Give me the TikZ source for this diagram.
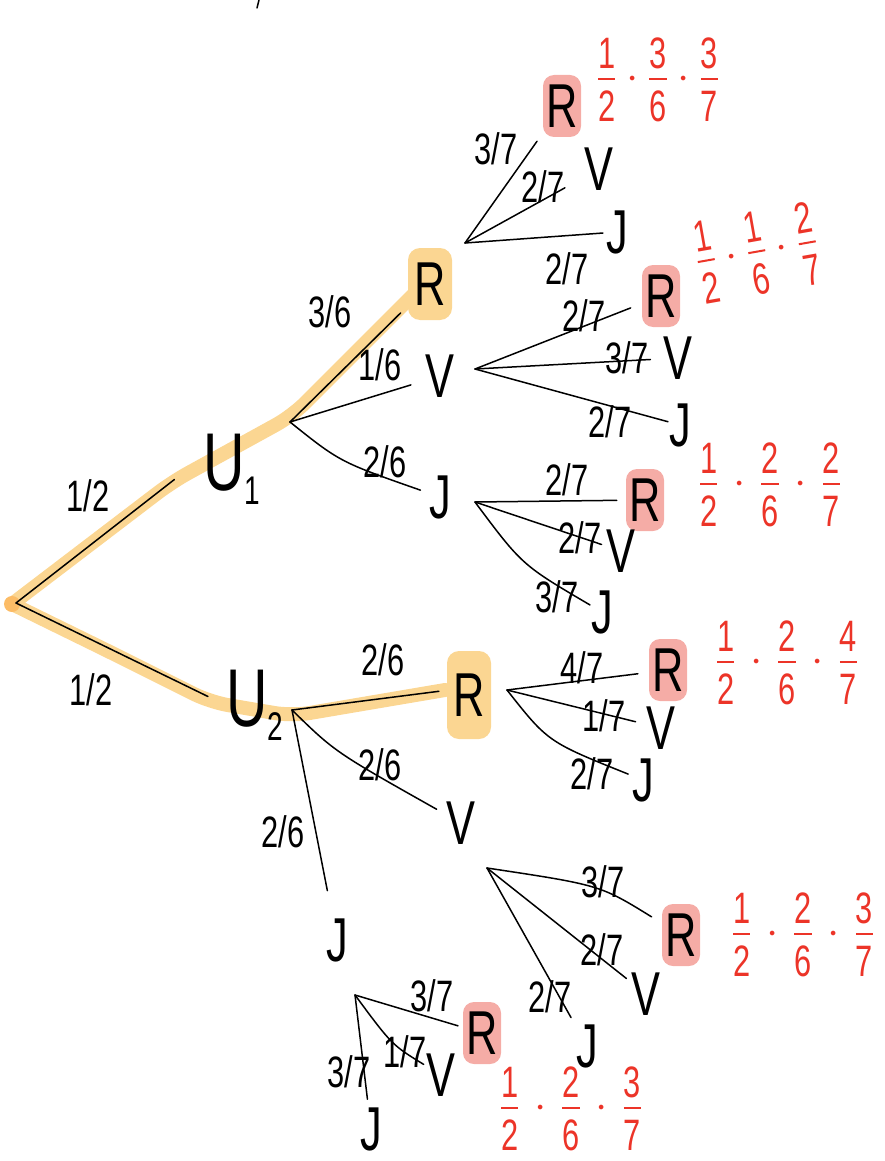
\documentclass[tikz,border=0pt]{standalone}
\usepackage{fix-cm}
\usepackage{amsmath}
\usepackage{fontspec}
\newfontfamily\hand[FakeStretch=0.7]{Liberation Sans}
\definecolor{hlorange}{RGB}{251,214,146}
\definecolor{hlred}{RGB}{245,172,166}
\definecolor{penred}{RGB}{236,52,40}
\newcommand\pf[2]{\genfrac{}{}{2pt}{1}{\mbox{\rule[-7pt]{0pt}{7pt}#1}}{\mbox{\rule{0pt}{40pt}#2}}}
\newcommand\pdot{\hspace{5pt}\cdot\hspace{5pt}}

\begin{document}
\begin{tikzpicture}[x=1pt,y=-1pt,
	outc/.style={font=\hand\fontsize{62}{62}\selectfont,inner sep=1pt},
	bigu/.style={font=\hand\fontsize{82}{82}\selectfont,inner sep=1pt,anchor=base west},
	prob/.style={font=\hand\fontsize{44}{44}\selectfont,inner sep=0pt},
	edge/.style={line width=1.5pt,line cap=round},
	hlpath/.style={draw=hlorange,line width=14pt,line cap=round,line join=round,rounded corners=18pt},
	pick/.style={outc,fill=hlorange,rounded corners=12pt,minimum width=44pt,minimum height=72pt},
	hit/.style={outc,fill=hlred,rounded corners=11pt,minimum width=38pt,minimum height=62pt},
	prod/.style={text=penred,font=\hand\fontsize{44}{44}\selectfont,inner sep=0pt}]
	\useasboundingbox (0,0) rectangle (885,1161);
	\draw[hlpath] (12,604) -- (172,482) -- (292,416) -- (414,294);
	\draw[hlpath] (12,604) -- (110,652) -- (210,702) -- (292,716) -- (445,690);
	\fill[hlorange!70!orange] (12,604) circle (8);
	\draw[edge] (259,0) -- (257,8);
	\coordinate (o) at (16,603);
	\node[bigu] (u1) at (202,490) {U\raisebox{-14pt}{\fontsize{40}{40}\selectfont 1}};
	\node[bigu] (u2) at (225,726) {U\raisebox{-14pt}{\fontsize{40}{40}\selectfont 2}};
	\coordinate (u1f) at (290,422);
	\coordinate (u2f) at (292,710);
	\node[pick] (r1) at (430,284) {R};
	\node[outc] (v1) at (440,376) {V};
	\node[outc] (j1) at (440,497) {J};
	\node[pick,minimum height=88pt] (r2) at (469,695) {R};
	\node[outc] (v2) at (461,823) {V};
	\node[outc] (j2) at (337,940) {J};
	\coordinate (r1f) at (465,243);
	\coordinate (v1f) at (475,369);
	\coordinate (j1f) at (475,502);
	\coordinate (r2f) at (507,690);
	\coordinate (v2f) at (487,868);
	\coordinate (j2f) at (355,995);
	\node[hit] (rr1) at (562,106) {R};
	\node[outc] (rv1) at (599,169) {V};
	\node[outc] (rj1) at (617,232) {J};
	\node[hit] (vr1) at (661,296) {R};
	\node[outc] (vv1) at (678,358) {V};
	\node[outc] (vj1) at (680,425) {J};
	\node[hit] (jr1) at (645,500) {R};
	\node[outc] (jv1) at (621,551) {V};
	\node[outc] (jj1) at (602,612) {J};
	\node[hit] (rr2) at (668,670) {R};
	\node[outc] (rv2) at (661,728) {V};
	\node[outc] (rj2) at (643,780) {J};
	\node[hit] (vr2) at (681,935) {R};
	\node[outc] (vv2) at (646,994) {V};
	\node[outc] (vj2) at (587,1046) {J};
	\node[hit] (jr2) at (482,1033) {R};
	\node[outc] (jv2) at (441,1075) {V};
	\node[outc] (jj2) at (371,1129) {J};
	\draw[edge,shorten >=35pt] (o) -- (u1.160);
	\draw[edge,shorten >=19pt] (o) -- (u2.west);
	\draw[edge,shorten >=10pt] (u1f) -- (r1);
	\draw[edge,shorten >=14pt] (u1f) -- (v1);
	\draw[edge,shorten >=8pt] (u1f) .. controls (340,462) .. (j1);
	\draw[edge,shorten >=8pt] (u2f) -- (r2.168);
	\draw[edge,shorten >=10pt] (u2f) .. controls (335,752) .. (v2);
	\draw[edge,shorten >=27pt] (u2f) -- (j2);
	\draw[edge,shorten >=10pt] (r1f) -- (rr1);
	\draw[edge,shorten >=21pt] (r1f) -- (rv1);
	\draw[edge,shorten >=2pt] (r1f) -- (rj1);
	\draw[edge,shorten >=12pt] (v1f) -- (vr1);
	\draw[edge,shorten >=12pt] (v1f) -- (vv1);
	\draw[edge] (v1f) -- (vj1);
	\draw[edge,shorten >=9pt] (j1f) -- (jr1);
	\draw[edge,shorten >=4pt] (j1f) -- (jv1);
	\draw[edge] (j1f) .. controls (522,565) .. (jj1);
	\draw[edge,shorten >=11pt] (r2f) -- (rr2);
	\draw[edge,shorten >=10pt] (r2f) -- (rv2);
	\draw[edge,shorten >=3pt] (r2f) .. controls (548,742) .. (rj2);
	\draw[edge,shorten >=12pt] (v2f) .. controls (600,885) .. (vr2);
	\draw[edge,shorten >=5pt] (v2f) -- (vv2);
	\draw[edge,shorten >=8pt] (v2f) -- (vj2);
	\draw[edge,shorten >=5pt] (j2f) -- (jr2);
	\draw[edge,shorten >=2pt] (j2f) .. controls (392,1045) .. (jv2);
	\draw[edge,shorten >=7pt] (j2f) -- (jj2);
	\node[prob] (p0a) at (88,496) {1/2};
	\node[prob] (p0b) at (91,690) {1/2};
	\node[prob] (pu1r) at (330,312) {3/6};
	\node[prob] (pu1v) at (380,365) {1/6};
	\node[prob] (pu1j) at (385,462) {2/6};
	\node[prob] (pu2r) at (383,660) {2/6};
	\node[prob] (pu2v) at (380,765) {2/6};
	\node[prob] (pu2j) at (283,832) {2/6};
	\node[prob] (prr1) at (496,149) {3/7};
	\node[prob] (prv1) at (543,187) {2/7};
	\node[prob] (prj1) at (567,269) {2/7};
	\node[prob] (pvr1) at (584,316) {2/7};
	\node[prob] (pvv1) at (627,358) {3/7};
	\node[prob] (pvj1) at (610,422) {2/7};
	\node[prob] (pjr1) at (567,480) {2/7};
	\node[prob] (pjv1) at (580,538) {2/7};
	\node[prob] (pjj1) at (557,597) {3/7};
	\node[prob] (prr2) at (582,668) {4/7};
	\node[prob] (prv2) at (604,716) {1/7};
	\node[prob] (prj2) at (592,774) {2/7};
	\node[prob] (pvr2) at (603,882) {3/7};
	\node[prob] (pvv2) at (602,950) {2/7};
	\node[prob] (pvj2) at (550,997) {2/7};
	\node[prob] (pjr2) at (432,996) {3/7};
	\node[prob] (pjv2) at (405,1052) {1/7};
	\node[prob] (pjj2) at (349,1072) {3/7};
	\node[prod] (res1) at (658,80) {$\pf{1}{2}\cdot\pf{3}{6}\cdot\pf{3}{7}$};
	\node[prod,rotate=10] (res2) at (757,253) {$\pf{1}{2}\cdot\pf{1}{6}\cdot\pf{2}{7}$};
	\node[prod] (res3) at (770,485) {$\pf{1}{2}\pdot\pf{2}{6}\pdot\pf{2}{7}$};
	\node[prod] (res4) at (787,663) {$\pf{1}{2}\pdot\pf{2}{6}\pdot\pf{4}{7}$};
	\node[prod] (res5) at (803,935) {$\pf{1}{2}\pdot\pf{2}{6}\pdot\pf{3}{7}$};
	\node[prod] (res6) at (571,1109) {$\pf{1}{2}\pdot\pf{2}{6}\pdot\pf{3}{7}$};
\end{tikzpicture}
\end{document}
